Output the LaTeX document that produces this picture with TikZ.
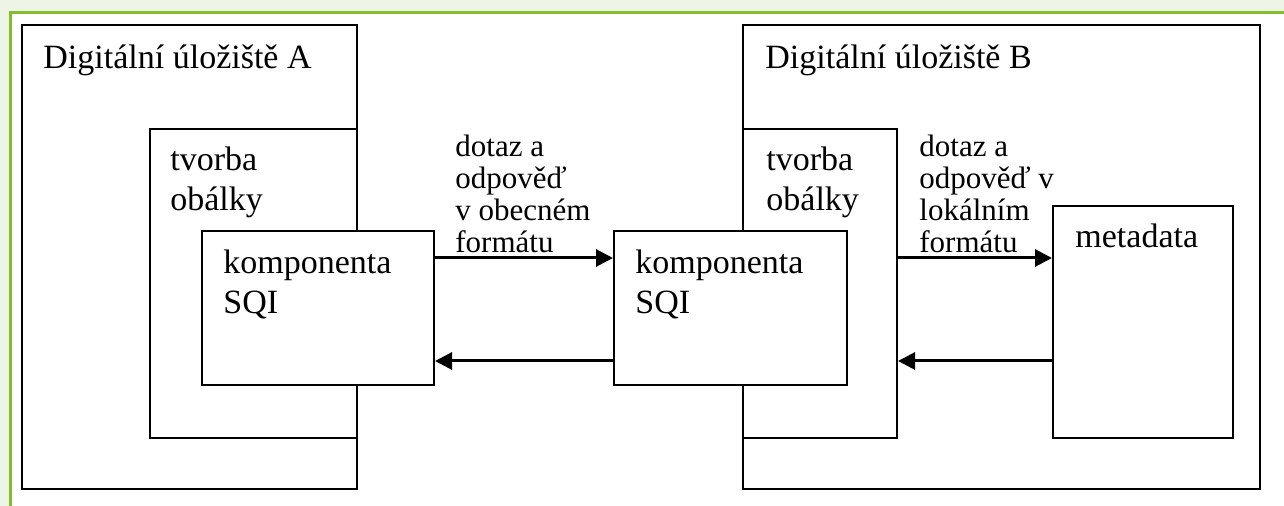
\documentclass[tikz,border=0pt]{standalone}
\usepackage{fontspec}
\setmainfont{Liberation Serif}
\usetikzlibrary{arrows.meta,positioning}
\definecolor{framegreen}{RGB}{132,190,44}
\definecolor{palegreen}{RGB}{238,244,230}

\begin{document}
\begin{tikzpicture}[x=0.5pt,y=-0.5pt,
    box/.style={draw,line width=1pt,fill=white,inner sep=0pt,anchor=north west},
    bigtxt/.style={font=\fontsize{17}{20}\selectfont,inner sep=0pt,align=left},
    smalltxt/.style={font=\fontsize{15.5}{16}\selectfont,inner sep=0pt,align=left},
    flow/.style={-{Triangle[length=8.5pt,width=8.5pt]},line width=1.5pt}]
    \useasboundingbox (0,0) rectangle (1284,506);
    \fill[palegreen] (0,0) rectangle (1284,506);
    \fill[white] (10,13) rectangle (1284,506);
    \draw[framegreen,line width=1.5pt] (10,506) -- (10,13) -- (1284,13);

    % repository A
    \node[box,minimum width=167.5pt,minimum height=232pt] (storeA) at (21,24) {};
    \node[box,minimum width=103.5pt,minimum height=154.5pt] (envA) at (149,128) {};
    \node[box,minimum width=116pt,minimum height=77pt] (sqiA) at (201,230) {};
    \node[bigtxt,anchor=base west] (storeAtxt) at (43,69) {Digitální úložiště A};
    \node[bigtxt,anchor=north west] (envAtxt) at (170,147) {tvorba\\obálky};
    \node[bigtxt,anchor=north west] (sqiAtxt) at (223,250) {komponenta\\SQI};

    % repository B
    \node[box,minimum width=258.5pt,minimum height=232pt] (storeB) at (742,24) {};
    \node[box,minimum width=77pt,minimum height=154.5pt] (envB) at (742,128) {};
    \node[box,minimum width=116.5pt,minimum height=77pt] (sqiB) at (613,230) {};
    \node[box,minimum width=90pt,minimum height=116pt] (meta) at (1052,205) {};
    \node[bigtxt,anchor=base west] (storeBtxt) at (765,69) {Digitální úložiště B};
    \node[bigtxt,anchor=north west] (envBtxt) at (766,147) {tvorba\\obálky};
    \node[bigtxt,anchor=north west] (sqiBtxt) at (635,250) {komponenta\\SQI};
    \node[bigtxt,anchor=base west] (metatxt) at (1075,248) {metadata};

    % messages
    \node[smalltxt,anchor=north west] (msgA) at (455,135) {dotaz a\\odpověď\\v obecném\\formátu};
    \node[smalltxt,anchor=north west] (msgB) at (919,135) {dotaz a\\odpověď v\\lokálním\\formátu};

    \coordinate (hi) at ([yshift=25pt]sqiA.east);
    \coordinate (lo) at ([yshift=-26.5pt]sqiA.east);
    \draw[flow] (sqiA.east |- hi) -- (sqiB.west |- hi);
    \draw[flow] (sqiB.west |- lo) -- (sqiA.east |- lo);
    \draw[flow] (envB.east |- hi) -- (meta.west |- hi);
    \draw[flow] (meta.west |- lo) -- (envB.east |- lo);
\end{tikzpicture}
\end{document}
